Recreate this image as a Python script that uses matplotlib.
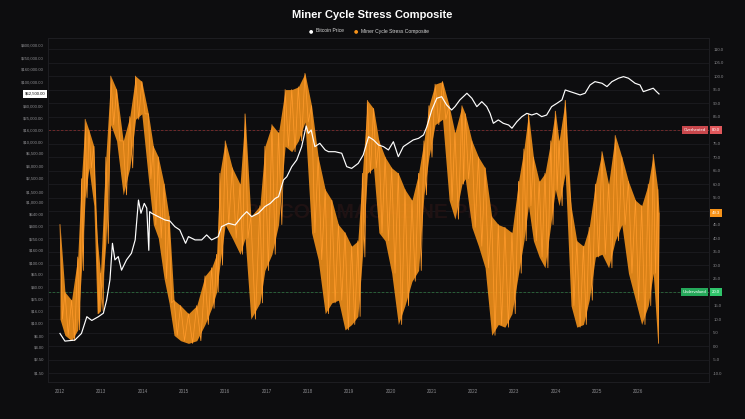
import numpy as np
import matplotlib
matplotlib.use("Agg")
import matplotlib.pyplot as plt
import matplotlib.transforms as mtransforms
from matplotlib.ticker import NullLocator

plt.rcParams['font.family'] = ['Liberation Sans', 'DejaVu Sans']

# ---------------- data ----------------
price_years = [2012.00, 2012.12, 2012.36, 2012.52, 2012.65, 2012.77, 2012.93, 2013.05, 2013.13, 2013.21,
               2013.27, 2013.33, 2013.41, 2013.49, 2013.61, 2013.73, 2013.82, 2013.90, 2013.96, 2014.04,
               2014.10, 2014.15, 2014.17, 2014.22, 2014.38, 2014.54, 2014.66, 2014.78, 2014.90, 2015.04,
               2015.11, 2015.27, 2015.43, 2015.55, 2015.67, 2015.83, 2015.91, 2016.08, 2016.24, 2016.40,
               2016.52, 2016.64, 2016.80, 2016.88, 2016.96, 2017.09, 2017.21, 2017.29, 2017.41, 2017.49,
               2017.61, 2017.73, 2017.85, 2017.96, 2018.01, 2018.08, 2018.17, 2018.29, 2018.42, 2018.50,
               2018.66, 2018.82, 2018.94, 2019.06, 2019.22, 2019.34, 2019.47, 2019.59, 2019.71, 2019.83,
               2019.95, 2020.07, 2020.19, 2020.31, 2020.43, 2020.55, 2020.68, 2020.80, 2020.88, 2021.00,
               2021.12, 2021.24, 2021.36, 2021.48, 2021.56, 2021.68, 2021.85, 2021.97, 2022.09, 2022.21,
               2022.33, 2022.41, 2022.49, 2022.61, 2022.73, 2022.86, 2022.94, 2023.06, 2023.18, 2023.30,
               2023.42, 2023.54, 2023.66, 2023.78, 2023.90, 2024.03, 2024.15, 2024.23, 2024.35, 2024.47,
               2024.59, 2024.71, 2024.83, 2024.95, 2025.12, 2025.24, 2025.36, 2025.52, 2025.64, 2025.76,
               2025.92, 2026.04, 2026.12, 2026.24, 2026.36, 2026.44, 2026.50]
price_usd = [6.7, 5.0, 5.2, 6.7, 12.7, 11, 12.7, 14.5, 24, 52,
             209, 111, 126, 75, 111, 143, 238, 1090, 658, 960,
             800, 160, 700, 658, 578, 510, 490, 395, 348, 209,
             270, 238, 238, 288, 238, 270, 395, 448, 420, 578,
             700, 578, 658, 745, 850, 960, 1160, 1240, 2345, 2650,
             3900, 5030, 8370, 18400, 13900, 15800, 8370, 9500, 7370, 6900,
             6900, 6500, 3900, 3650, 4420, 6090, 12200, 10800, 8920, 8370,
             7370, 10100, 5700, 8370, 9500, 10800, 11500, 13100, 17900, 33900,
             53000, 56300, 41000, 33900, 38500, 49800, 64200, 53000, 38500, 46600,
             38500, 29800, 20400, 23200, 20400, 19100, 16900, 21700, 26300, 29800,
             28000, 29800, 26300, 28000, 38500, 43800, 49800, 72800, 68300, 64200,
             60200, 64200, 88000, 100000, 94000, 82800, 100000, 114000, 121000, 114000,
             94000, 88000, 68300, 72800, 77800, 68300, 62500]

stress_years = [2012.00, 2012.12, 2012.28, 2012.43, 2012.52, 2012.61, 2012.70, 2012.82, 2012.90, 2012.98,
                2013.11, 2013.23, 2013.37, 2013.53, 2013.69, 2013.83, 2013.98, 2014.14, 2014.26, 2014.38,
                2014.52, 2014.64, 2014.76, 2014.92, 2015.11, 2015.31, 2015.51, 2015.67, 2015.79, 2015.87,
                2016.00, 2016.17, 2016.36, 2016.48, 2016.62, 2016.84, 2016.96, 2017.13, 2017.29, 2017.45,
                2017.61, 2017.77, 2017.93, 2018.09, 2018.25, 2018.42, 2018.58, 2018.74, 2018.90, 2019.06,
                2019.21, 2019.32, 2019.44, 2019.59, 2019.72, 2019.87, 2020.03, 2020.19, 2020.35, 2020.52,
                2020.68, 2020.81, 2020.93, 2021.08, 2021.26, 2021.42, 2021.56, 2021.73, 2021.81, 2021.97,
                2022.13, 2022.29, 2022.45, 2022.61, 2022.77, 2022.94, 2023.10, 2023.23, 2023.34, 2023.46,
                2023.60, 2023.74, 2023.88, 2023.99, 2024.08, 2024.23, 2024.37, 2024.51, 2024.67, 2024.81,
                2024.96, 2025.12, 2025.28, 2025.44, 2025.60, 2025.76, 2025.93, 2026.08, 2026.24, 2026.36,
                2026.47, 2026.50]
stress_high = [45, 20, 17, 33, 62, 84, 80, 74, 40, 27,
               70, 100, 95, 76, 85, 100, 98, 86, 74, 70,
               60, 48, 17, 15, 12, 15, 26, 29, 34, 64,
               76, 66, 60, 86, 48, 52, 74, 82, 79, 95,
               95, 96, 101, 89, 70, 58, 54, 45, 42, 37,
               39, 64, 91, 88, 76, 70, 66, 64, 58, 54,
               64, 76, 89, 97, 98, 89, 79, 89, 86, 76,
               70, 66, 48, 45, 44, 42, 61, 73, 86, 70,
               61, 64, 76, 87, 76, 91, 52, 39, 37, 44,
               60, 72, 60, 78, 70, 61, 54, 52, 60, 71,
               58, 49.3]
stress_low = [10, 4, 2, 6, 28, 55, 66, 52, 12, 13,
              38, 82, 76, 56, 66, 84, 86, 62, 45, 40,
              25, 16, 4, 2, 1, 2, 8, 14, 20, 30,
              45, 40, 34, 40, 10, 16, 28, 34, 45, 74,
              72, 76, 83, 42, 32, 12, 16, 17, 6, 8,
              11, 33, 64, 66, 42, 39, 27, 8, 15, 24,
              28, 56, 70, 82, 84, 54, 47, 60, 62, 44,
              37, 29, 4, 8, 7, 12, 27, 39, 52, 39,
              33, 29, 45, 58, 52, 64, 15, 7, 8, 17,
              33, 34, 29, 39, 45, 27, 17, 8, 15, 27,
              1, 49.3]

overheated_level = 80.0
undervalued_level = 20.0
current_price_label = "$62,500.00"

year_ticks = [2012, 2013, 2014, 2015, 2016, 2017, 2018, 2019, 2020, 2021, 2022, 2023, 2024, 2025, 2026]
stress_ticks = [-10, -5, 0, 5, 10, 15, 20, 25, 30, 35, 40, 45, 50, 55, 60, 65, 70, 75, 80, 85,
                90, 95, 100, 105, 110]
price_ticks = [1.5, 2.5, 4, 6, 10, 16, 25, 40, 65, 100, 160, 250, 400, 640, 1000, 1500, 2500,
               4000, 6500, 10000, 16000, 25000, 40000, 100000, 160000, 250000, 400000]

# ---------------- styling ----------------
BG = '#0d0d0f'
ORANGE = '#f7931a'
GRID = '#1c1c20'
TICKC = '#8a8a8e'

W, H = 745, 419
L, R, T, B = 48, 709, 38, 382

fig = plt.figure(figsize=(W / 100, H / 100), dpi=100, facecolor=BG)
ax_s = fig.add_axes([L / W, 1 - B / H, (R - L) / W, (B - T) / H])
ax_s.set_facecolor(BG)
ax_p = ax_s.twinx()
ax_p.patch.set_visible(False)

ax_s.set_xlim(2011.71, 2027.71)
ax_s.set_ylim(-13.3, 114.1)
ax_p.set_yscale('log')
ax_p.set_ylim(1.05, 529000)

# grid
for v in stress_ticks:
    ax_s.axhline(v, color=GRID, lw=0.6, zorder=0)

# threshold lines
ax_s.axhline(overheated_level, color='#7a2c2c', lw=0.6, ls=(0, (3, 2)), zorder=1)
ax_s.axhline(undervalued_level, color='#2c6a3c', lw=0.6, ls=(0, (3, 2)), zorder=1)

# watermark
ax_s.text(0.49, 0.494, "BITCOIN MAGAZINE PRO", transform=ax_s.transAxes, ha='center', va='center',
          fontsize=15, fontweight='bold', color='#1f1213', zorder=0.5)

# stress composite (dense daily series drawn as envelope + zigzag)
sy = np.array(stress_years)
hi = np.array(stress_high)
lo = np.array(stress_low)
ax_s.fill_between(sy, lo, hi, color=ORANGE, alpha=0.88, lw=0, zorder=2)
zx = np.empty(2 * len(sy) - 1)
zy = np.empty(2 * len(sy) - 1)
zx[0::2] = sy
zx[1::2] = (sy[:-1] + sy[1:]) / 2
zy[0::2] = hi
zy[1::2] = lo[:-1]
ax_s.plot(zx, zy, color='#ff9a2a', lw=0.55, zorder=2.5)

# bitcoin price
ax_p.plot(price_years, price_usd, color='white', lw=0.85, zorder=3)

# axes ticks (labels hidden where a badge covers them, as in the reference)
badge_levels = [overheated_level, undervalued_level, stress_high[-1]]
ax_s.yaxis.tick_right()
ax_p.yaxis.tick_left()
ax_s.set_yticks(stress_ticks)
ax_s.set_yticklabels(["" if min(abs(v - b) for b in badge_levels) < 2.6 else f"{v:.1f}"
                      for v in stress_ticks])
ax_p.set_yticks(price_ticks)
ax_p.set_yticklabels([f"${v:,.2f}" for v in price_ticks])
ax_p.yaxis.set_minor_locator(NullLocator())
ax_s.set_xticks(year_ticks)
ax_s.set_xticklabels([str(y) for y in year_ticks])

ax_s.tick_params(axis='y', length=0, labelsize=3.1, labelcolor=TICKC, pad=3)
ax_p.tick_params(axis='y', length=0, labelsize=3.1, labelcolor=TICKC, pad=3)
ax_s.tick_params(axis='x', length=0, labelsize=3.3, labelcolor=TICKC, pad=5)

for a in (ax_s, ax_p):
    for sp in a.spines.values():
        sp.set_color('#1e1e22')
        sp.set_linewidth(0.6)

# right side badges
trs = mtransforms.blended_transform_factory(ax_s.transAxes, ax_s.transData)
ax_s.text(1.004, overheated_level, f"{overheated_level:.1f}", transform=trs, ha='left', va='center',
          fontsize=3.1, color='white', zorder=5,
          bbox=dict(boxstyle='square,pad=0.45', fc='#e0585c', ec='none'))
ax_s.text(0.996, overheated_level, "Overheated", transform=trs, ha='right', va='center',
          fontsize=3.1, color='white', zorder=5,
          bbox=dict(boxstyle='square,pad=0.45', fc='#c9474c', ec='none'))
ax_s.text(1.004, undervalued_level, f"{undervalued_level:.1f}", transform=trs, ha='left', va='center',
          fontsize=3.1, color='white', zorder=5,
          bbox=dict(boxstyle='square,pad=0.45', fc='#2fc46a', ec='none'))
ax_s.text(0.996, undervalued_level, "Undervalued", transform=trs, ha='right', va='center',
          fontsize=3.1, color='white', zorder=5,
          bbox=dict(boxstyle='square,pad=0.45', fc='#25a85a', ec='none'))
ax_s.text(1.004, stress_high[-1], f"{stress_high[-1]:.1f}", transform=trs, ha='left', va='center',
          fontsize=3.1, color='white', zorder=5,
          bbox=dict(boxstyle='square,pad=0.45', fc=ORANGE, ec='none'))

# left current price badge
trp = mtransforms.blended_transform_factory(ax_p.transAxes, ax_p.transData)
ax_p.text(-0.004, price_usd[-1], current_price_label, transform=trp, ha='right', va='center',
          fontsize=3.1, color='#111111', zorder=5,
          bbox=dict(boxstyle='square,pad=0.45', fc='white', ec='none'))

# title and legend
fig.text(0.4993, 1 - 15 / H, "Miner Cycle Stress Composite", ha='center', va='center',
         fontsize=8, fontweight='bold', color='white')
ly = 1 - 31 / H
fig.text(310.7 / W, ly, "\u25CF", ha='center', va='center', fontsize=3.6, color='white', family='DejaVu Sans')
fig.text(316 / W, ly, "Bitcoin Price", ha='left', va='center', fontsize=3.6, color='#d8d8d8')
fig.text(356 / W, ly, "\u25CF", ha='center', va='center', fontsize=3.6, color=ORANGE, family='DejaVu Sans')
fig.text(361 / W, ly, "Miner Cycle Stress Composite", ha='left', va='center', fontsize=3.6, color='#d8d8d8')

fig.savefig("out.png", dpi=100, facecolor=BG)
